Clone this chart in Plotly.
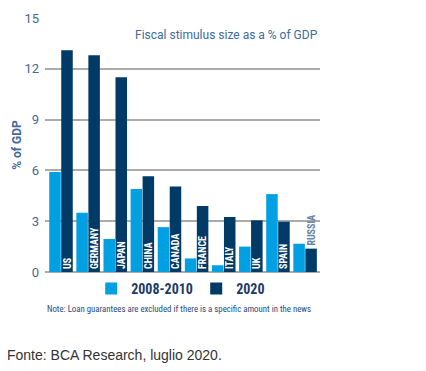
import plotly.graph_objects as go

countries = ["US", "GERMANY", "JAPAN", "CHINA", "CANADA", "FRANCE", "ITALY", "UK", "SPAIN", "RUSSIA"]
stim_2008_2010 = [5.9, 3.5, 1.95, 4.9, 2.65, 0.8, 0.4, 1.5, 4.6, 1.67]
stim_2020 = [13.1, 12.8, 11.5, 5.65, 5.05, 3.9, 3.25, 3.05, 2.97, 1.38]
y_ticks = [0, 3, 6, 9, 12, 15]

LIGHT = "#00a0e2"
DARK = "#003a66"
COND = "Roboto Condensed, Roboto, sans-serif"
ROB = "Roboto, sans-serif"
TXT = "#44689a"

x_idx = list(range(len(countries)))
label_pos = ["inside"] * (len(countries) - 1) + ["outside"]

fig = go.Figure()
fig.add_trace(go.Bar(x=x_idx, y=stim_2008_2010, name="2008-2010",
                     marker=dict(color=LIGHT, line=dict(width=0))))
fig.add_trace(go.Bar(x=x_idx, y=stim_2020, name="2020",
                     marker=dict(color=DARK, line=dict(width=0)),
                     text=countries, textposition=label_pos, textangle=-90,
                     insidetextanchor="start",
                     insidetextfont=dict(family=COND, size=10, color="white", weight="bold"),
                     outsidetextfont=dict(family=COND, size=10, color="#6385ad", weight="bold"),
                     constraintext="none", cliponaxis=False))

# page body has an 8px margin, so the figure is drawn 8px lower and to the right
fig.update_layout(
    width=418, height=363,
    margin=dict(l=37, r=106, t=10, b=99, autoexpand=False),
    paper_bgcolor="white", plot_bgcolor="white",
    barmode="group", bargap=0.115, bargroupgap=0.04,
    showlegend=True,
    legend=dict(orientation="h", x=0.168, xanchor="left", y=-0.067, yanchor="middle",
                font=dict(family=COND, size=14, color="#1c3a66", weight="bold"),
                entrywidth=60, entrywidthmode="pixels",
                bgcolor="rgba(0,0,0,0)", traceorder="normal"),
    xaxis=dict(range=[-0.59, 9.55], showticklabels=False, showgrid=False,
               zeroline=False, showline=False, ticks="", automargin=False),
    yaxis=dict(range=[0, 15], tickvals=y_ticks, showgrid=True, automargin=False,
               gridcolor="#ababab", gridwidth=2, zeroline=True,
               zerolinecolor="#ababab", zerolinewidth=2, showline=False,
               ticks="", ticklabelstandoff=5,
               tickfont=dict(family=ROB, size=13, color=TXT),
               title=dict(text="% of GDP", standoff=0,
                          font=dict(family=ROB, size=12, color=TXT, weight="bold"))),
    annotations=[
        dict(text="Fiscal stimulus size as a % of GDP", xref="paper", yref="paper",
             x=1.0, y=0.935, xanchor="right", yanchor="middle", showarrow=False,
             font=dict(family=ROB, size=12, color="#3f6a9c")),
        dict(text="Note: Loan guarantees are excluded if there is a specific amount in the news",
             xref="paper", yref="paper", x=0.0, y=-0.146, xanchor="left", yanchor="middle",
             showarrow=False, font=dict(family=COND, size=8.8, color="#2c4a7a")),
        dict(text="Fonte: BCA Research, luglio 2020.", xref="paper", yref="paper",
             x=-40/275, y=-0.327, xanchor="left", yanchor="middle", showarrow=False,
             font=dict(family="Liberation Sans, Arial, sans-serif", size=14, color="#333333")),
    ],
)

fig.write_html("out.html")
